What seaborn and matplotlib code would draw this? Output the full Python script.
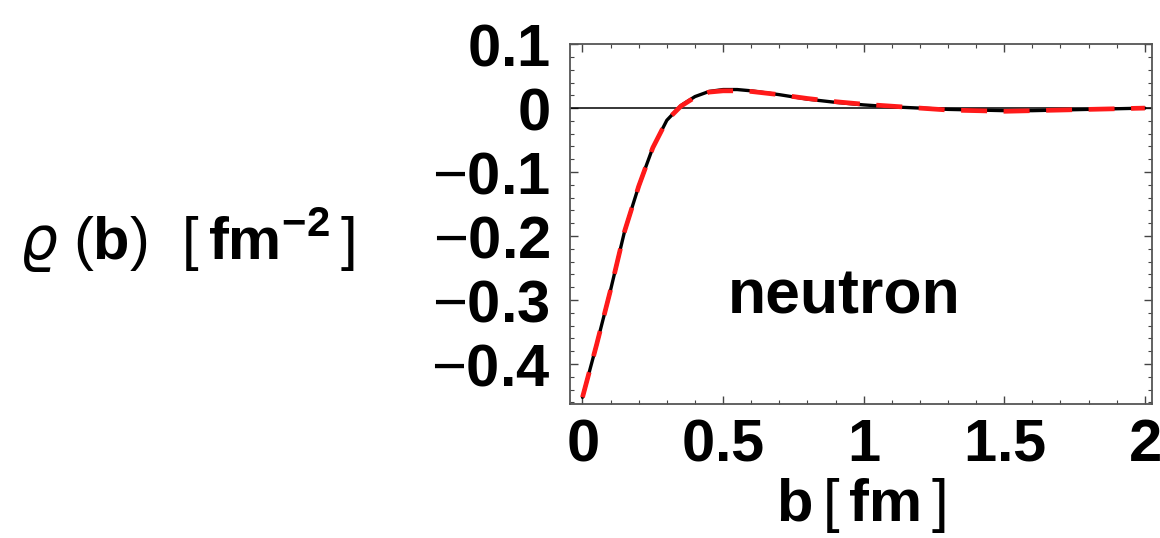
import numpy as np
import pandas as pd
import seaborn as sns
import matplotlib.pyplot as plt
from matplotlib.ticker import MultipleLocator, FuncFormatter

# impact parameter b [fm]
b = [0.0, 0.05, 0.1, 0.15, 0.2, 0.25, 0.3, 0.35, 0.4, 0.45, 0.5, 0.55, 0.6,
     0.7, 0.8, 0.9, 1.0, 1.1, 1.2, 1.3, 1.4, 1.5, 1.6, 1.7, 1.8, 1.9, 2.0]

# transverse charge density, full result (black) and fit (red dashed)
rho_full = [-0.452, -0.370, -0.284, -0.192, -0.122, -0.062, -0.019, 0.004, 0.018,
            0.026, 0.029, 0.029, 0.027, 0.021, 0.014, 0.009, 0.005, 0.002, 0.000,
            -0.002, -0.003, -0.004, -0.004, -0.003, -0.002, -0.001, 0.000]
rho_fit = [-0.452, -0.370, -0.284, -0.192, -0.122, -0.062, -0.019, 0.003, 0.017,
           0.025, 0.027, 0.027, 0.026, 0.021, 0.015, 0.010, 0.006, 0.003, 0.000,
           -0.003, -0.004, -0.005, -0.004, -0.003, -0.002, -0.001, 0.000]

df = pd.DataFrame({'b': b, 'full': rho_full, 'fit': rho_fit})

sns.set_theme(style='ticks')
plt.rcParams['font.family'] = ['Liberation Sans', 'DejaVu Sans']
plt.rcParams['mathtext.fontset'] = 'custom'
plt.rcParams['mathtext.rm'] = 'Liberation Sans'
plt.rcParams['mathtext.bf'] = 'Liberation Sans:bold'
plt.rcParams['mathtext.it'] = 'DejaVu Sans:italic'
plt.rcParams['text.color'] = 'black'
plt.rcParams['axes.labelcolor'] = 'black'
plt.rcParams['xtick.labelcolor'] = 'black'
plt.rcParams['ytick.labelcolor'] = 'black'

fig = plt.figure(figsize=(11.6, 5.38), dpi=100)
ax = fig.add_axes([0.491, 0.249, 0.502, 0.669])

ax.axhline(0, color='black', lw=1.1, zorder=1)
sns.lineplot(data=df, x='b', y='full', ax=ax, color='black', lw=2.4, zorder=2)
sns.lineplot(data=df, x='b', y='fit', ax=ax, color='#ff1a1a', lw=3.4,
             dashes=False, zorder=3)
ax.lines[-1].set_dashes([5.5, 3.5])

ax.set_xlim(-0.046, 2.025)
ax.set_ylim(-0.4625, 0.1)

ax.xaxis.set_major_locator(MultipleLocator(0.5))
ax.xaxis.set_minor_locator(MultipleLocator(0.1))
ax.yaxis.set_major_locator(MultipleLocator(0.1))
ax.yaxis.set_minor_locator(MultipleLocator(0.02))


def fmt(v, pos):
    if abs(v) < 1e-9:
        return r'$\mathbf{0}$'
    s = f'{abs(v):g}'
    if v < 0:
        return r'$-\mathbf{' + s + '}$'
    return r'$\mathbf{' + s + '}$'


ax.xaxis.set_major_formatter(FuncFormatter(fmt))
ax.yaxis.set_major_formatter(FuncFormatter(fmt))

ax.tick_params(which='both', direction='in', top=True, right=True,
               color='#444444')
ax.tick_params(which='major', length=6, width=1.0, labelsize=43, pad=10)
ax.tick_params(which='minor', length=3, width=0.8)
ax.tick_params(axis='y', pad=14)
for sp in ax.spines.values():
    sp.set_linewidth(1.3)
    sp.set_color('#555555')

ax.set_xlabel(r'$\mathbf{b}\,[\,\mathbf{fm}\,]$', fontsize=43, labelpad=2)
ax.set_ylabel('')

fig.text(0.016, 0.554, r'$\varrho\;(\mathbf{b})\;\;[\,\mathbf{fm}^{\mathbf{-2}}\,]$',
         fontsize=43, ha='left', va='center')

ax.text(0.93, -0.295, 'neutron', fontsize=45, fontweight='bold',
        ha='center', va='center')

fig.savefig('out.png', dpi=100)
